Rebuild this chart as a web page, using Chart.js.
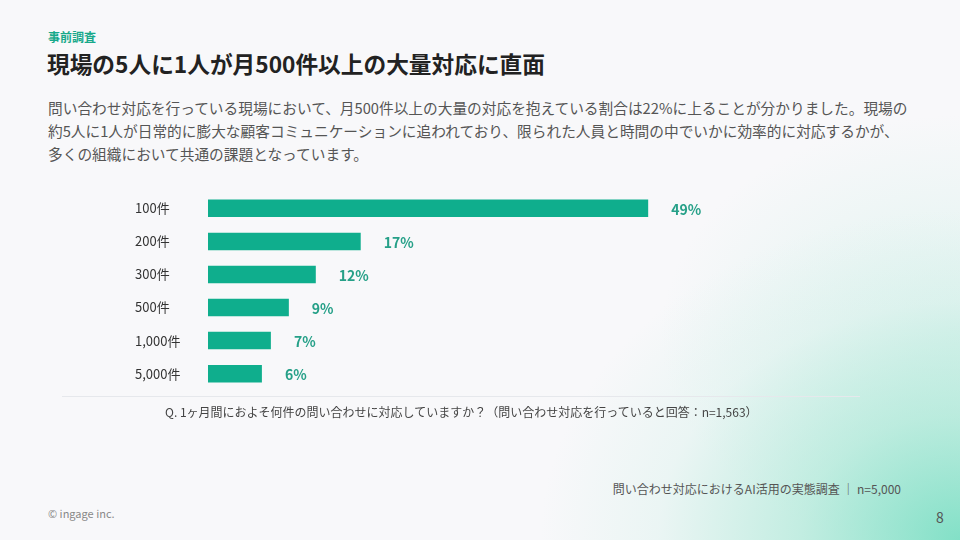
<!DOCTYPE html>
<html lang="ja">
<head>
<meta charset="utf-8">
<script src="https://cdn.jsdelivr.net/npm/chart.js@4.4.1/dist/chart.umd.min.js"></script>
<style>
  html, body { margin: 0; padding: 0; }
  body {
    width: 960px; height: 540px; overflow: hidden; position: relative;
    font-family: "Noto Sans CJK JP", "Noto Sans", sans-serif;
    background:
      radial-gradient(ellipse 420px 330px at 100% 100%, rgba(110,220,190,0.85) 0%, rgba(150,228,205,0.55) 38%, rgba(200,238,228,0.28) 72%, rgba(248,248,250,0) 100%),
      radial-gradient(ellipse 300px 220px at 100% 62%, rgba(190,236,224,0.45) 0%, rgba(248,248,250,0) 100%),
      #f8f8fa;
  }
  .kicker { position: absolute; left: 48px; top: 28px; font-size: 12px; font-weight: 700; color: #17a98a; }
  .title { position: absolute; left: 47px; top: 47px; font-size: 22.7px; font-weight: 700; color: #222; }
  .para { position: absolute; left: 48px; top: 96px; font-size: 14.7px; line-height: 23px; color: #555; width: 910px; white-space: nowrap; }
  .sep { position: absolute; left: 62px; top: 396px; width: 798px; height: 1px; background: #e6e8ec; }
  .q { position: absolute; left: 165px; top: 403px; font-size: 12px; color: #444; }
  .src { position: absolute; right: 59px; top: 480px; font-size: 12px; color: #555; }
  .copy { position: absolute; left: 48px; top: 505px; font-size: 11px; color: #888; }
  .page { position: absolute; left: 936px; top: 507px; font-size: 14px; color: #555; }
  #wrap { position: absolute; left: 135px; top: 184px; width: 640px; height: 214px; }
</style>
</head>
<body>
<div class="kicker">事前調査</div>
<div class="title">現場の5人に1人が月500件以上の大量対応に直面</div>
<div class="para">問い合わせ対応を行っている現場において、月500件以上の大量の対応を抱えている割合は22%に上ることが分かりました。現場の<br>約5人に1人が日常的に膨大な顧客コミュニケーションに追われており、限られた人員と時間の中でいかに効率的に対応するかが、<br>多くの組織において共通の課題となっています。</div>
<div id="wrap"><canvas id="c"></canvas></div>
<div class="sep"></div>
<div class="q">Q. 1ヶ月間におよそ何件の問い合わせに対応していますか？（問い合わせ対応を行っていると回答：n=1,563）</div>
<div class="src">問い合わせ対応におけるAI活用の実態調査 ｜ n=5,000</div>
<div class="copy">© ingage inc.</div>
<div class="page">8</div>
<script>
const categories = ["100件", "200件", "300件", "500件", "1,000件", "5,000件"];
const shares = [49, 17, 12, 9, 7, 6];
const shareLabels = ["49%", "17%", "12%", "9%", "7%", "6%"];

const valueLabels = {
  id: 'valueLabels',
  afterDatasetsDraw(chart) {
    const ctx = chart.ctx;
    const meta = chart.getDatasetMeta(0);
    ctx.save();
    ctx.font = '700 14px "Noto Sans CJK JP", "Noto Sans", sans-serif';
    ctx.fillStyle = '#26a088';
    ctx.textAlign = 'left';
    ctx.textBaseline = 'middle';
    meta.data.forEach((bar, i) => {
      ctx.fillText(shareLabels[i], bar.x + 23, bar.y + 1);
    });
    ctx.restore();
  }
};

new Chart(document.getElementById('c'), {
  type: 'bar',
  data: {
    labels: categories,
    datasets: [{
      data: shares,
      backgroundColor: '#0fae8d',
      borderWidth: 0,
      categoryPercentage: 1,
      barPercentage: 0.53
    }]
  },
  options: {
    indexAxis: 'y',
    responsive: true,
    maintainAspectRatio: false,
    animation: false,
    layout: { padding: { left: 0, right: 28, top: 0, bottom: 0 } },
    plugins: { legend: { display: false }, tooltip: { enabled: false } },
    scales: {
      x: { display: false, min: 0, max: 60 },
      y: {
        grid: { display: false },
        border: { display: false },
        afterFit(scale) { scale.width = 73; },
        ticks: {
          crossAlign: 'far',
          padding: 0,
          color: '#333',
          font: { family: '"Noto Sans CJK JP", "Noto Sans", sans-serif', size: 13 }
        }
      }
    }
  },
  plugins: [valueLabels]
});
</script>
</body>
</html>
